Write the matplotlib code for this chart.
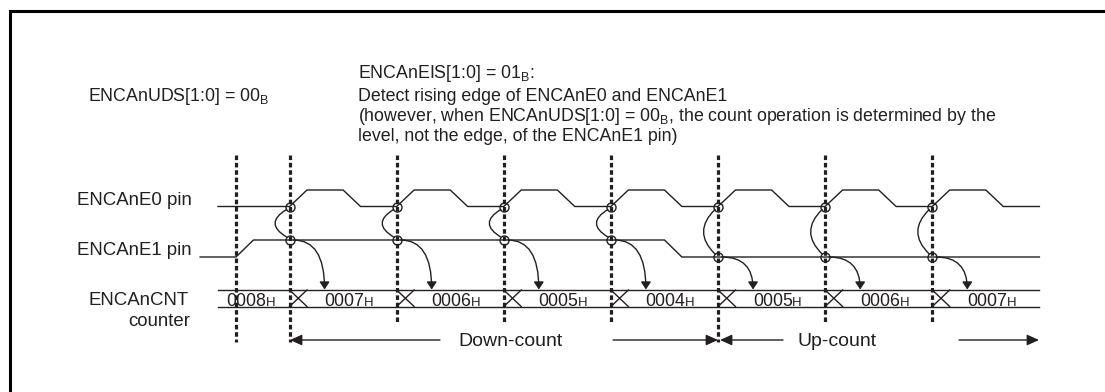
import numpy as np
import matplotlib.pyplot as plt
from matplotlib.path import Path
from matplotlib.patches import FancyArrowPatch

plt.rcParams['font.family'] = ['Liberation Sans', 'DejaVu Sans']
plt.rcParams['mathtext.fontset'] = 'custom'
plt.rcParams['mathtext.rm'] = 'Liberation Sans'
plt.rcParams['lines.scale_dashes'] = False

# --- datos (tiempo en cuartos de periodo de ENCAnE0) ---
marcas_t = [0, 2, 6, 10, 14, 18, 22, 26]        # lineas discontinuas
marcas_largas = [0, 2, 18]
e0_subidas = [2, 6, 10, 14, 18, 22, 26]
e0_bajadas = [4, 8, 12, 16, 20, 24, 28]
e1_subidas = [0]
e1_bajadas = [16]
cambios_cnt = [2, 6, 10, 14, 18, 22, 26]
valores_cnt = ['0008', '0007', '0006', '0005', '0004', '0005', '0006', '0007']
t_ini_e0, t_ini_e1, t_fin = -0.67, -1.34, 30
rampa = 0.65

# --- escala (pixeles de la figura) ---
X0, U = 236.0, 26.78
def px(x):
    return (x - X0) / U

C = '#231f20'
Y_E0 = (206.5, 190.0)   # bajo, alto
Y_E1 = (257.0, 240.0)
Y_BUS = (290.0, 306.5)

def onda(t_ini, subidas, bajadas, niveles):
    ev = sorted([(t, 1) for t in subidas] + [(t, 0) for t in bajadas])
    ts, ys = [t_ini], [niveles[0]]
    nivel = 0
    for t, n in ev:
        ts += [t, t + rampa]
        ys += [niveles[nivel], niveles[n]]
        nivel = n
    ts.append(t_fin)
    ys.append(niveles[nivel])
    return ts, ys

def nivel_en(t, subidas, bajadas, niveles):
    ev = sorted([(s, 1) for s in subidas] + [(s, 0) for s in bajadas])
    n = 0
    for s, v in ev:
        if s <= t:
            n = v
    return niveles[n]

fig = plt.figure(figsize=(11.05, 3.92), dpi=100)
ax = fig.add_axes([0, 0, 1, 1])
ax.set_xlim(px(0), px(1105))
ax.set_ylim(392, 0)
ax.axis('off')

# marco
ax.plot([px(10), px(10), px(1105)], [392, 11, 11], color='black', lw=2.2,
        solid_capstyle='butt', solid_joinstyle='miter')

# lineas discontinuas
for t in marcas_t:
    fondo = 342 if t in marcas_largas else 322
    ax.plot([t, t], [155, fondo], color=C, lw=2.3, linestyle=(0, (3.3, 2.0)))

# señales
tx, ty = onda(t_ini_e0, e0_subidas, e0_bajadas, Y_E0)
ax.plot(tx, ty, color=C, lw=1.0)
tx, ty = onda(t_ini_e1, e1_subidas, e1_bajadas, Y_E1)
ax.plot(tx, ty, color=C, lw=1.0)

# bus del contador
for yb in Y_BUS:
    ax.plot([t_ini_e0, t_fin], [yb, yb], color=C, lw=1.0)
for t in cambios_cnt:
    ax.plot([t, t + rampa], [Y_BUS[0], Y_BUS[1]], color=C, lw=1.0)
    ax.plot([t, t + rampa], [Y_BUS[1], Y_BUS[0]], color=C, lw=1.0)

inicios = [t_ini_e0] + [t + rampa for t in cambios_cnt]
finales = cambios_cnt + [t_fin]
fs_dig, fs_h = 12.8, 9.5
w_dig = 4 * 0.556 * fs_dig / 72 * 100 / U
w_h = 0.722 * fs_h / 72 * 100 / U
for a, b, v in zip(inicios, finales, valores_cnt):
    x = (a + b) / 2 - 3 / U - (w_dig + w_h) / 2
    ax.text(x, 306, v, fontsize=fs_dig, color=C, va='baseline', ha='left')
    ax.text(x + w_dig, 306, 'H', fontsize=fs_h, color=C, va='baseline', ha='left')

# circulos, arcos y flechas
for t in e0_subidas:
    y0 = Y_E0[0]
    y1 = nivel_en(t, e1_subidas, e1_bajadas, Y_E1)
    ax.plot([t, t], [y0, y1], 'o', ms=6.5, mfc='none', mec=C, mew=1.0)
    arco = Path([(t - 3 / U, y0 + 3), (t - 26 / U, (y0 + y1) / 2), (t - 3 / U, y1 - 3)],
                [Path.MOVETO, Path.CURVE3, Path.CURVE3])
    ax.add_patch(FancyArrowPatch(path=arco, arrowstyle='-', color=C, lw=1.0))
    curva = Path([(t + 4 / U, y1), (t + 35 / U, y1), (t + 35 / U, Y_BUS[0] - 0.5)],
                 [Path.MOVETO, Path.CURVE3, Path.CURVE3])
    ax.add_patch(FancyArrowPatch(path=curva, arrowstyle='-|>,head_length=0.45,head_width=0.3',
                                 mutation_scale=10, color=C, lw=1.0))

# etiquetas de las señales
fs = 13.4
ax.text(px(192), 205, 'ENCAnE0 pin', fontsize=fs, color=C, ha='right', va='baseline')
ax.text(px(192), 255, 'ENCAnE1 pin', fontsize=fs, color=C, ha='right', va='baseline')
ax.text(px(189), 305, 'ENCAnCNT', fontsize=fs, color=C, ha='right', va='baseline')
ax.text(px(190), 326, 'counter', fontsize=fs, color=C, ha='right', va='baseline')

# textos superiores
ft = 12.8
ax.text(px(88), 101, r'ENCAnUDS[1:0] = 00$_\mathregular{B}$', fontsize=ft, color=C, va='baseline')
lineas = [r'ENCAnEIS[1:0] = 01$_\mathregular{B}$:',
          'Detect rising edge of ENCAnE0 and ENCAnE1',
          r'(however, when ENCAnUDS[1:0] = 00$_\mathregular{B}$, the count operation is determined by the',
          'level, not the edge, of the ENCAnE1 pin)']
for yb, s in zip([78, 101, 121, 141], lineas):
    ax.text(px(358), yb, s, fontsize=ft, color=C, va='baseline')

# flechas de cuenta
flecha = dict(arrowstyle='-|>,head_length=0.6,head_width=0.27', color=C, lw=1.0,
              shrinkA=0, shrinkB=0, mutation_scale=12)
ax.annotate('', xy=(px(290), 340), xytext=(px(440), 340), arrowprops=flecha)
ax.annotate('', xy=(px(718), 340), xytext=(px(613), 340), arrowprops=flecha)
ax.annotate('', xy=(px(720), 340), xytext=(px(783), 340), arrowprops=flecha)
ax.annotate('', xy=(px(1039), 340), xytext=(px(959), 340), arrowprops=flecha)
ax.text(px(511), 346, 'Down-count', fontsize=14, color=C, ha='center', va='baseline')
ax.text(px(837), 346, 'Up-count', fontsize=14, color=C, ha='center', va='baseline')

fig.savefig('out.png', dpi=100)
